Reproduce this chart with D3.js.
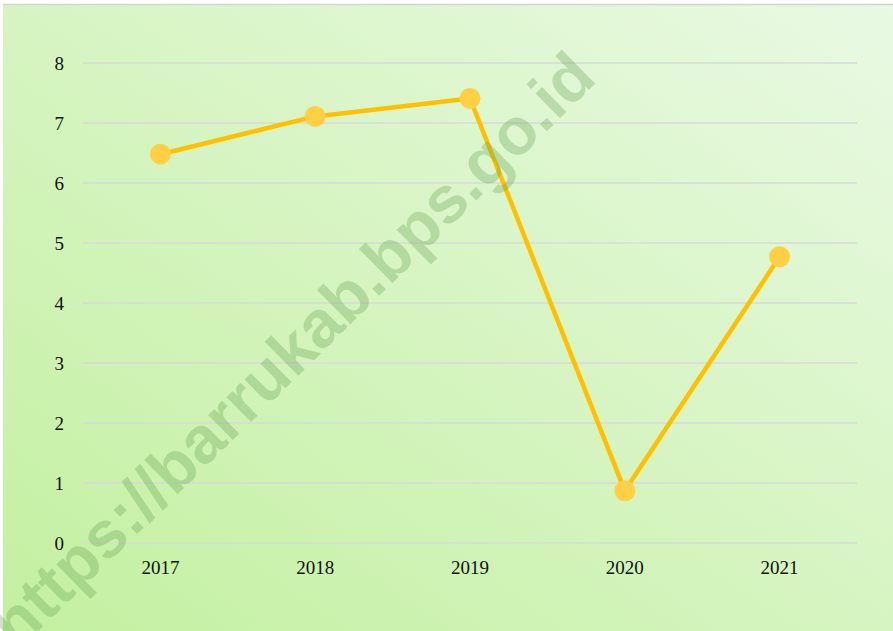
<!DOCTYPE html>
<html>
<head>
<meta charset="utf-8">
<script src="https://cdn.jsdelivr.net/npm/d3@7"></script>
<style>
  html, body { margin: 0; padding: 0; background: #fff; }
  svg { display: block; }
  .axis text { font-family: "Liberation Serif", "DejaVu Serif", serif; font-size: 19px; fill: #111; }
</style>
</head>
<body>
<svg id="chart" width="893" height="631"></svg>
<script>
var years = ["2017", "2018", "2019", "2020", "2021"];
var values = [6.48, 7.11, 7.41, 0.87, 4.77];
var yTicks = [0, 1, 2, 3, 4, 5, 6, 7, 8];

var svg = d3.select("#chart"),
  W = +svg.attr("width"),
  H = +svg.attr("height"),
  margin = {top: 63, right: 36, bottom: 88, left: 83},
  width = W - margin.left - margin.right,
  height = H - margin.top - margin.bottom;

var defs = svg.append("defs");
var grad = defs.append("linearGradient")
  .attr("id", "bg")
  .attr("x1", "0%").attr("y1", "100%")
  .attr("x2", "100%").attr("y2", "0%");
grad.append("stop").attr("offset", "0%").attr("stop-color", "#c3f0a0");
grad.append("stop").attr("offset", "100%").attr("stop-color", "#e9f9e3");

// chart area background + top border
svg.append("rect")
  .attr("x", 3).attr("y", 4)
  .attr("width", W - 3).attr("height", H - 4)
  .attr("fill", "url(#bg)");
svg.append("line")
  .attr("x1", 3).attr("x2", W)
  .attr("y1", 4.5).attr("y2", 4.5)
  .attr("stroke", "#d4d4d4")
  .attr("stroke-width", 1.5);

var x = d3.scaleBand().domain(years).range([0, width]),
  y = d3.scaleLinear().domain([0, 8]).range([height, 0]);

var g = svg.append("g")
  .attr("transform", "translate(" + margin.left + "," + margin.top + ")");

// gridlines
g.append("g")
  .selectAll("line")
  .data(yTicks)
  .enter().append("line")
  .attr("x1", 0).attr("x2", width)
  .attr("y1", function(d) { return y(d); })
  .attr("y2", function(d) { return y(d); })
  .attr("stroke", "#d9d9d9")
  .attr("stroke-width", 1.5);

// y axis labels
var yAxis = d3.axisLeft(y).tickValues(yTicks).tickSize(0).tickPadding(19);
g.append("g")
  .attr("class", "axis axis--y")
  .call(yAxis)
  .call(function(s) { s.select(".domain").remove(); });

// x axis labels
var xAxis = d3.axisBottom(x).tickSize(0).tickPadding(18);
g.append("g")
  .attr("class", "axis axis--x")
  .attr("transform", "translate(0," + height + ")")
  .call(xAxis)
  .call(function(s) { s.select(".domain").remove(); });

// watermark
var wm = svg.append("text")
  .attr("font-family", "Liberation Sans, Arial, sans-serif")
  .attr("font-weight", "bold")
  .attr("font-size", 58)
  .attr("text-anchor", "middle")
  .attr("fill", "#5f9a4c")
  .attr("fill-opacity", 0.3)
  .attr("transform", "translate(308,366) rotate(-44.5)")
  .text("https://barrukab.bps.go.id");
var len = wm.node().getComputedTextLength();
wm.attr("font-size", 58 * 815 / len);

// line + markers
var line = d3.line()
  .x(function(d, i) { return x(years[i]) + x.bandwidth() / 2; })
  .y(function(d) { return y(d); });

g.append("path")
  .datum(values)
  .attr("fill", "none")
  .attr("stroke", "#ffc000")
  .attr("stroke-width", 4.5)
  .attr("stroke-linejoin", "round")
  .attr("d", line);

g.selectAll(".dot")
  .data(values)
  .enter().append("circle")
  .attr("class", "dot")
  .attr("cx", function(d, i) { return x(years[i]) + x.bandwidth() / 2; })
  .attr("cy", function(d) { return y(d); })
  .attr("r", 10.5)
  .attr("fill", "#ffd043");
</script>
</body>
</html>
